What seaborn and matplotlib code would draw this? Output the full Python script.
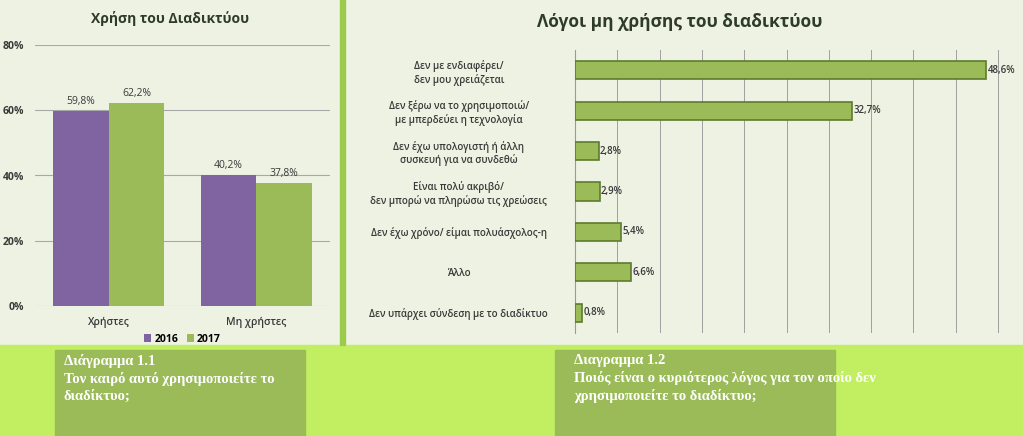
import pandas as pd
import matplotlib.pyplot as plt
import seaborn as sns
from matplotlib.patches import Rectangle

# data
groups = ['Χρήστες', 'Μη χρήστες']
years = ['2016', '2017']
vals_2016 = [59.8, 40.2]
vals_2017 = [62.2, 37.8]

reasons = ['Δεν με ενδιαφέρει/\nδεν μου χρειάζεται',
           'Δεν ξέρω να το χρησιμοποιώ/\nμε μπερδεύει η τεχνολογία',
           'Δεν έχω υπολογιστή ή άλλη\nσυσκευή για να συνδεθώ',
           'Είναι πολύ ακριβό/\nδεν μπορώ να πληρώσω τις χρεώσεις',
           'Δεν έχω χρόνο/ είμαι πολυάσχολος-η',
           'Άλλο',
           'Δεν υπάρχει σύνδεση με το διαδίκτυο']
reason_vals = [48.6, 32.7, 2.8, 2.9, 5.4, 6.6, 0.8]

BG = '#EEF2E3'
LIME = '#C2EF62'
OLIVE = '#9BBB59'
PURPLE = '#8064A2'
TXT = '#3A3A3A'
FONT = 'Open Sans'

W, H = 1023, 436
fig = plt.figure(figsize=(W / 100, H / 100), dpi=100, facecolor=BG)

def box(x, y, w, h, color):
    fig.patches.append(Rectangle((x / W, 1 - (y + h) / H), w / W, h / H,
                                 transform=fig.transFigure, color=color, zorder=0))

box(0, 345, W, 91, LIME)
box(340, 0, 5, 345, '#9BCB4A')
box(55, 350, 250, 86, OLIVE)
box(555, 350, 280, 86, OLIVE)

# left chart
df1 = pd.DataFrame({'group': groups * 2,
                    'year': [years[0]] * 2 + [years[1]] * 2,
                    'value': vals_2016 + vals_2017})
ax1 = fig.add_axes([35 / W, 1 - 306 / H, 295 / W, 261 / H])
ax1.set_facecolor(BG)
sns.barplot(data=df1, x='group', y='value', hue='year', order=groups,
            palette=[PURPLE, OLIVE], saturation=1, width=0.75, ax=ax1, zorder=3)
ax1.set_ylim(0, 80)
ax1.set_yticks([0, 20, 40, 60, 80])
ax1.set_yticklabels([f'{t}%' for t in [0, 20, 40, 60, 80]], fontsize=7.5,
                    color=TXT, fontfamily=FONT, fontweight='bold')
ax1.grid(axis='y', color='#a8a8a8', lw=0.8, zorder=0)
ax1.tick_params(length=0, pad=8)
for lab in ax1.get_xticklabels():
    lab.set_fontsize(7.5); lab.set_color(TXT); lab.set_fontfamily(FONT)
    lab.set_fontweight('semibold')
ax1.set_xlabel(''); ax1.set_ylabel('')
for s in ax1.spines.values():
    s.set_visible(False)
for c in ax1.containers:
    ax1.bar_label(c, labels=[f'{v:.1f}%'.replace('.', ',') for v in c.datavalues],
                  fontsize=7.5, color=TXT, fontfamily=FONT, padding=3)
ax1.legend(loc='upper center', bbox_to_anchor=(0.5, -0.07), ncol=2, frameon=False,
           handlelength=0.7, handleheight=0.7, columnspacing=0.8,
           handletextpad=0.3, prop={'family': FONT, 'weight': 'bold', 'size': 7.5})
fig.text(170 / W, 1 - 18 / H, 'Χρήση του Διαδικτύου', ha='center', va='center',
         fontsize=10, fontweight='bold', color='#2F3B2A', fontfamily=FONT)

# right chart
df2 = pd.DataFrame({'reason': reasons, 'value': reason_vals})
ax2 = fig.add_axes([575 / W, 1 - 333 / H, 440 / W, 283 / H])
ax2.set_facecolor(BG)
sns.barplot(data=df2, y='reason', x='value', orient='h', color=OLIVE, saturation=1,
            width=0.45, edgecolor='#5E7A2E', linewidth=1.2, ax=ax2, zorder=3)
ax2.set_xlim(0, 52)
ax2.set_xticks(range(0, 55, 5))
ax2.set_xticklabels([])
ax2.grid(axis='x', color='#a0a0a0', lw=0.7, zorder=0)
ax2.tick_params(length=0, pad=14)
for lab in ax2.get_yticklabels():
    lab.set_fontsize(7); lab.set_color(TXT); lab.set_fontfamily(FONT)
    lab.set_fontweight('semibold')
    lab.set_ha('center'); lab.set_x(-0.22)
ax2.set_xlabel(''); ax2.set_ylabel('')
for s in ['top', 'right', 'bottom']:
    ax2.spines[s].set_visible(False)
ax2.spines['left'].set_color('#9a9a9a')
ax2.bar_label(ax2.containers[0],
              labels=[f'{v:.1f}%'.replace('.', ',') for v in reason_vals],
              fontsize=7, color=TXT, fontfamily=FONT, fontweight='semibold', padding=1)
fig.text(680 / W, 1 - 22 / H, 'Λόγοι μη χρήσης του διαδικτύου', ha='center', va='center',
         fontsize=12.5, fontweight='bold', color='#2F3B2A', fontfamily=FONT)

# captions
cap = dict(color='white', fontsize=10.5, fontfamily='Liberation Serif',
           fontweight='bold', va='top', ha='left', linespacing=1.35)
fig.text(64 / W, 1 - 354 / H, 'Διάγραμμα 1.1\nΤον καιρό αυτό χρησιμοποιείτε το\nδιαδίκτυο;', **cap)
fig.text(574 / W, 1 - 354 / H, 'Διαγραμμα 1.2\nΠοιός είναι ο κυριότερος λόγος για τον οποίο δεν\nχρησιμοποιείτε το διαδίκτυο;', **cap)

fig.savefig('out.png', dpi=100, facecolor=BG)
